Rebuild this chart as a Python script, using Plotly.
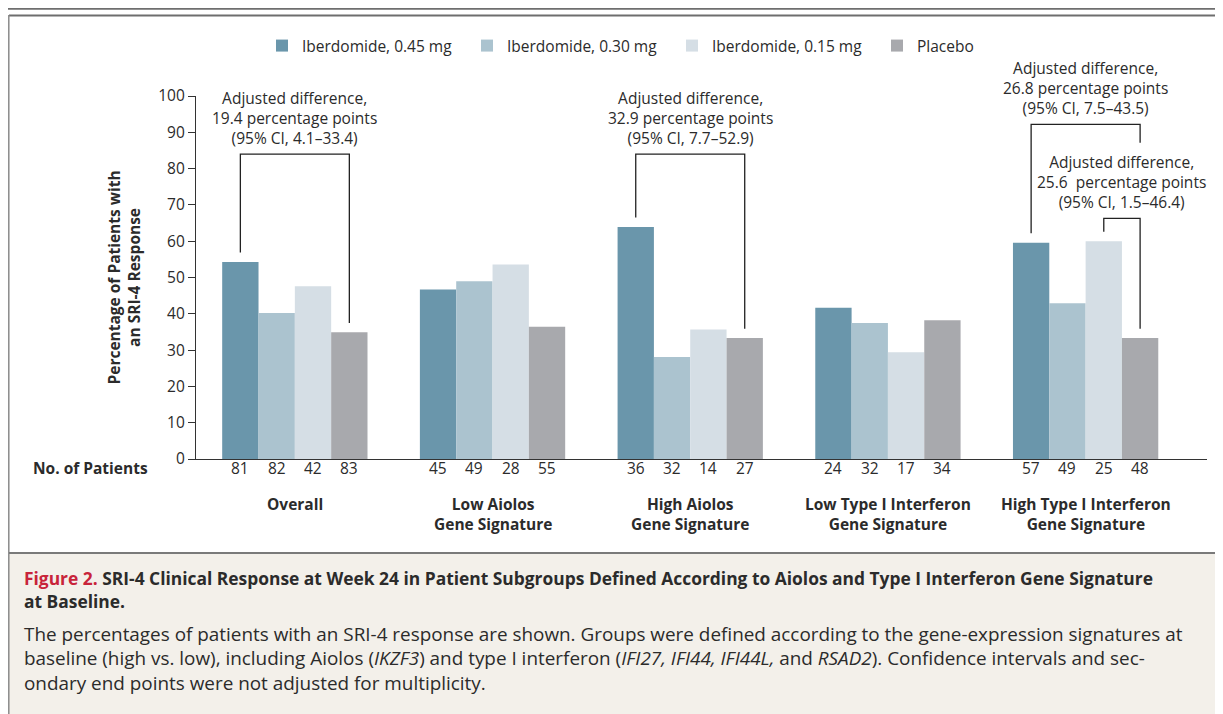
import plotly.graph_objects as go

# ---------------- data ----------------
groups = ["Overall", "Low Aiolos<br>Gene Signature", "High Aiolos<br>Gene Signature",
          "Low Type I Interferon<br>Gene Signature", "High Type I Interferon<br>Gene Signature"]
series_names = ["Iberdomide, 0.45 mg", "Iberdomide, 0.30 mg", "Iberdomide, 0.15 mg", "Placebo"]
ib045 = [54.3, 46.7, 63.9, 41.7, 59.6]
ib030 = [40.2, 49.0, 28.1, 37.5, 42.9]
ib015 = [47.6, 53.6, 35.7, 29.4, 60.0]
placebo = [34.9, 36.4, 33.3, 38.2, 33.3]
n_ib045 = [81, 45, 36, 24, 57]
n_ib030 = [82, 49, 32, 32, 49]
n_ib015 = [42, 28, 14, 17, 25]
n_placebo = [83, 55, 27, 34, 48]
y_ticks = [0, 10, 20, 30, 40, 50, 60, 70, 80, 90, 100]

# comparisons: (group index, from series, to series, bracket top, right leg end or None, text)
comparisons = [
    (0, 0, 3, 84.0, None, "Adjusted difference,<br>19.4 percentage points<br>(95% CI, 4.1\u201333.4)"),
    (2, 0, 3, 84.0, None, "Adjusted difference,<br>32.9 percentage points<br>(95% CI, 7.7\u201352.9)"),
    (4, 0, 3, 92.2, 87.1, "Adjusted difference,<br>26.8 percentage points<br>(95% CI, 7.5\u201343.5)"),
    (4, 2, 3, 66.3, None, "Adjusted difference,<br>25.6\u00a0 percentage points<br>(95% CI, 1.5\u201346.4)"),
]

caption_lines = [
    ("<b><span style='color:#c8243a'>Figure 2.</span> SRI-4 Clinical Response at Week 24 in Patient Subgroups "
     "Defined According to Aiolos and Type I Interferon Gene Signature</b>"),
    "<b>at Baseline.</b>",
    "The percentages of patients with an SRI-4 response are shown. Groups were defined according to the gene-expression signatures at",
    ("baseline (high vs. low), including Aiolos (<i>IKZF3</i>) and type I interferon (<i>IFI27, IFI44, IFI44L,</i> "
     "and <i>RSAD2</i>). Confidence intervals and sec-"),
    "ondary end points were not adjusted for multiplicity.",
]

colors = ["#6a96ab", "#abc3cf", "#d5dee5", "#a8a9ad"]
values = [ib045, ib030, ib015, placebo]
counts = [n_ib045, n_ib030, n_ib015, n_placebo]

FONT = "Open Sans"
TXT = "#2b2b2b"

# page geometry (the html body adds an 8px margin)
OFF = 8
W, H = 1223 - OFF, 714 - OFF
X0, X1, Y0, Y1 = 196, 1207, 96, 459   # plot area in page pixels


def px(x):
    return (x - X0) / (X1 - X0)


def py(y):
    return (Y1 - y) / (Y1 - Y0)


BARGAP = 0.265
bar_w = (1 - BARGAP) / 4


def offset(i):
    return (i - 1.5) * bar_w


xs = list(range(len(groups)))

fig = go.Figure()
for i, name in enumerate(series_names):
    fig.add_trace(go.Bar(x=xs, y=values[i], name=name, marker=dict(color=colors[i], line=dict(width=0)),
                         hoverinfo="y+name"))

shapes = []
annotations = []

# background/caption frame
shapes.append(dict(type="rect", xref="paper", yref="paper", x0=px(9), x1=px(1240), y0=py(553), y1=py(730),
                   fillcolor="#f3f0ea", line=dict(width=0), layer="below"))
shapes.append(dict(type="line", xref="paper", yref="paper", x0=px(0), x1=px(1240), y0=py(8.8), y1=py(8.8),
                   line=dict(color="#6e6e6e", width=2)))
shapes.append(dict(type="line", xref="paper", yref="paper", x0=px(9), x1=px(1240), y0=py(15.5), y1=py(15.5),
                   line=dict(color="#6e6e6e", width=2)))
shapes.append(dict(type="line", xref="paper", yref="paper", x0=px(8.8), x1=px(8.8), y0=py(15), y1=py(730),
                   line=dict(color="#8a8a8a", width=1.5)))
shapes.append(dict(type="line", xref="paper", yref="paper", x0=px(9), x1=px(1240), y0=py(553), y1=py(553),
                   line=dict(color="#7a7a7a", width=2)))

# brackets
GAP = 2.6
for g, a, b, top, rend, text in comparisons:
    xa = g + offset(a)
    xb = g + offset(b)
    ya = values[a][g] + GAP
    yb = rend if rend is not None else values[b][g] + GAP
    shapes.append(dict(type="path", xref="x", yref="y",
                       path=f"M {xa} {ya} L {xa} {top} L {xb} {top} L {xb} {yb}",
                       line=dict(color="#222222", width=1.3)))
    annotations.append(dict(x=(xa + xb) / 2, y=top, xref="x", yref="y", text=text, showarrow=False,
                            xanchor="center", yanchor="bottom", yshift=3, align="center",
                            font=dict(family=FONT, size=15.5, color=TXT)))

# patient counts
for i in range(4):
    for g in xs:
        annotations.append(dict(x=g + offset(i), y=py(468), xref="x", yref="paper", text=str(counts[i][g]),
                                showarrow=False, xanchor="center", yanchor="middle",
                                font=dict(family=FONT, size=15.5, color=TXT)))
annotations.append(dict(x=px(150), y=py(468), xref="paper", yref="paper", text="<b>No. of Patients</b>",
                        showarrow=False, xanchor="right", yanchor="middle",
                        font=dict(family=FONT, size=15.5, color=TXT)))

# group labels
for g, lab in enumerate(groups):
    annotations.append(dict(x=g, y=py(491), xref="x", yref="paper", text=f"<b>{lab}</b>", showarrow=False,
                            xanchor="center", yanchor="top", align="center",
                            font=dict(family=FONT, size=15.5, color=TXT)))

# y-axis title
annotations.append(dict(x=px(123), y=py(277.5), xref="paper", yref="paper",
                        text="<b>Percentage of Patients with<br>an SRI-4 Response</b>", showarrow=False,
                        textangle=-90, xanchor="center", yanchor="middle", align="center",
                        font=dict(family=FONT, size=15.5, color=TXT)))

# caption
cap_y = [578, 601, 634, 658, 683]
cap_size = [17.4, 17.4, 18.9, 18.9, 18.9]
for line, yy, fs in zip(caption_lines, cap_y, cap_size):
    annotations.append(dict(x=px(22), y=py(yy), xref="paper", yref="paper", text=line, showarrow=False,
                            xanchor="left", yanchor="middle", align="left",
                            font=dict(family=FONT, size=fs, color=TXT)))

fig.update_layout(
    width=W, height=H,
    margin=dict(l=X0 - OFF, r=W - (X1 - OFF), t=Y0 - OFF, b=H - (Y1 - OFF), autoexpand=False),
    paper_bgcolor="white", plot_bgcolor="white",
    barmode="group", bargap=BARGAP, bargroupgap=0,
    font=dict(family=FONT, size=15.5, color=TXT),
    showlegend=True,
    legend=dict(orientation="h", x=px(262), y=py(46), xanchor="left", yanchor="middle",
                font=dict(family=FONT, size=15.5, color=TXT), itemclick=False, traceorder="normal",
                entrywidth=160, entrywidthmode="pixels", bgcolor="rgba(0,0,0,0)"),
    xaxis=dict(range=[-0.5, 4.614], showticklabels=False, ticks="", showline=True, linecolor="#333333",
               linewidth=1.2, showgrid=False, zeroline=False, fixedrange=True),
    yaxis=dict(range=[0, 100], tickvals=y_ticks, ticks="outside", ticklen=7, tickcolor="#333333",
               tickwidth=1, showline=True, linecolor="#333333", linewidth=1.2, showgrid=False,
               zeroline=False, tickfont=dict(family=FONT, size=15.5, color=TXT), fixedrange=True),
    shapes=shapes,
    annotations=annotations,
)

fig.write_html("out.html")
